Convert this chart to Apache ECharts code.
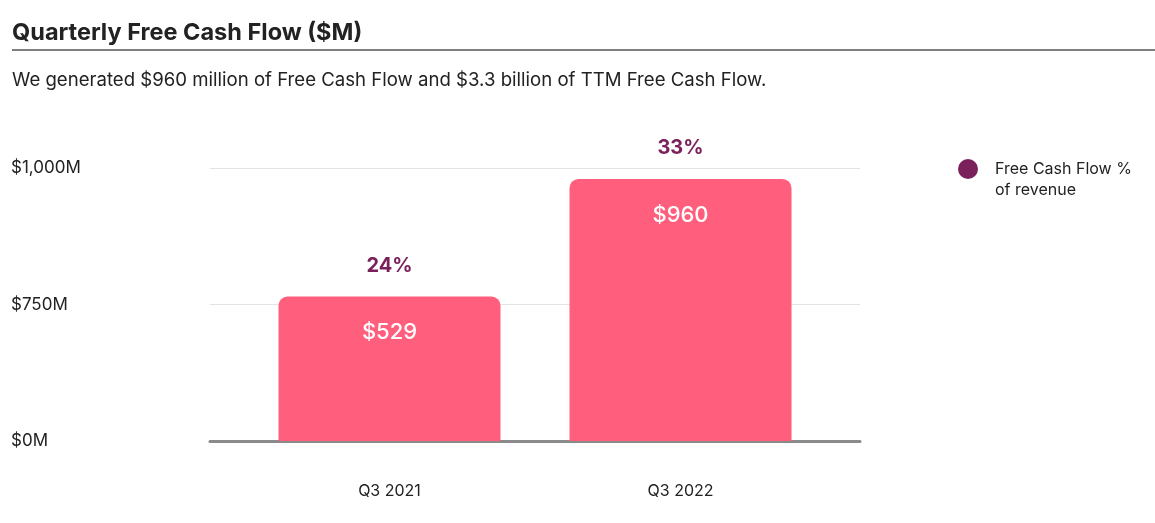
<!DOCTYPE html>
<html>
<head>
<meta charset="utf-8">
<script src="https://cdn.jsdelivr.net/npm/echarts@6/dist/echarts.min.js"></script>
<style>
  html, body { margin: 0; padding: 0; background: #fff; }
  #main { width: 1155px; height: 523px; }
</style>
</head>
<body>
<div id="main"></div>
<script>
// data
var quarters = ['Q3 2021', 'Q3 2022'];
var fcfValues = [529, 960];
var fcfPct = ['24%', '33%'];
var yTickLabels = ['$0M', '$750M', '$1,000M']; // labels as printed in the source

var FONT = 'Inter, "Noto Sans", sans-serif';
var myChart = echarts.init(document.getElementById('main'));

var option = {
    backgroundColor: '#fff',
    textStyle: { fontFamily: FONT },
    title: [{
        text: 'Quarterly Free Cash Flow ($M)',
        left: 7, top: 16,
        textStyle: { fontSize: 23.5, fontWeight: 'bold', color: '#222', fontFamily: FONT }
    }, {
        text: 'We generated $960 million of Free Cash Flow and $3.3 billion of TTM Free Cash Flow.',
        left: 7, top: 66,
        textStyle: { fontSize: 18.6, fontWeight: 'normal', color: '#222', fontFamily: FONT }
    }],
    graphic: [{
        type: 'line',
        shape: { x1: 12, y1: 50, x2: 1155, y2: 50 },
        style: { stroke: '#555', lineWidth: 1.5 }
    }],
    legend: {
        data: [{ name: 'Free Cash Flow %\nof revenue', icon: 'circle' }],
        left: 953, top: 135,
        itemWidth: 20, itemHeight: 20, itemGap: 10,
        // blank first line so the dot lines up with the first text line
        formatter: function (name) { return '{a| }\n' + name.split('\n').map(function (s) { return '{a|' + s + '}'; }).join('\n'); },
        textStyle: {
            fontSize: 16, color: '#222', fontFamily: FONT,
            padding: [0, 0, 0, 12],
            rich: { a: { fontSize: 16, lineHeight: 21, color: '#222', fontFamily: FONT } }
        }
    },
    grid: [
        { left: 210, right: 295, top: 168, bottom: 82 },
        { left: 244, right: 329, top: 168, bottom: 82 }
    ],
    xAxis: [{
        type: 'category', gridIndex: 0, data: quarters,
        axisLine: { lineStyle: { color: '#8a8a8a', width: 3 } },
        axisTick: { show: false }, axisLabel: { show: false }
    }, {
        type: 'category', gridIndex: 1, data: quarters,
        axisLine: { show: false }, axisTick: { show: false },
        axisLabel: { margin: 42, fontSize: 16, color: '#222', fontFamily: FONT }
    }],
    yAxis: [{
        type: 'value', gridIndex: 0, min: 0, max: 1000, interval: 500,
        axisLine: { show: false }, axisTick: { show: false },
        splitLine: { lineStyle: { color: '#e3e3e3', width: 1 } },
        axisLabel: {
            align: 'left', margin: 199, fontSize: 17, color: '#222', fontFamily: FONT,
            formatter: function (v) { return yTickLabels[Math.round(v / 500)]; }
        }
    }, {
        type: 'value', gridIndex: 1, min: 0, max: 1000, show: false
    }],
    series: [{
        name: 'Free Cash Flow',
        type: 'bar',
        xAxisIndex: 1, yAxisIndex: 1,
        data: fcfValues,
        barWidth: 222,
        itemStyle: { color: '#ff5f7c', borderRadius: [9, 9, 0, 0] },
        label: {
            show: true, position: 'insideTop', distance: 25,
            formatter: '${c}', color: '#fff', fontSize: 22, fontWeight: 500, fontFamily: FONT
        },
        z: 3
    }, {
        name: 'Free Cash Flow %\nof revenue',
        type: 'scatter',
        xAxisIndex: 1, yAxisIndex: 1,
        data: fcfValues,
        symbolSize: 0.01,
        itemStyle: { color: '#7a215b', opacity: 1 },
        label: {
            show: true, position: 'top', distance: 21,
            formatter: function (p) { return fcfPct[p.dataIndex]; },
            color: '#7a215b', fontSize: 20, fontWeight: 'bold', fontFamily: FONT
        },
        z: 4
    }]
};

myChart.setOption(option);
</script>
</body>
</html>
